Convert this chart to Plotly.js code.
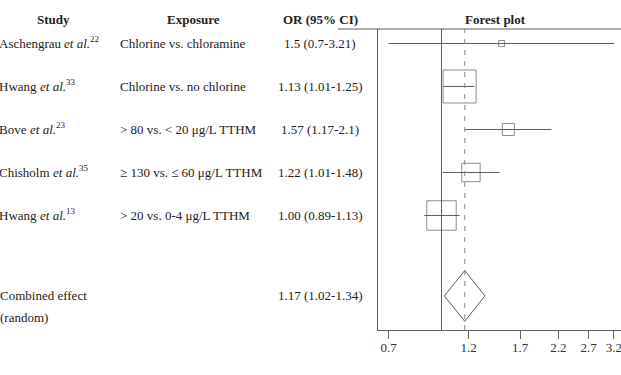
<!DOCTYPE html>
<html>
<head>
<meta charset="utf-8">
<script src="https://cdn.plot.ly/plotly-3.0.1.min.js"></script>
<style>
  html, body { margin: 0; padding: 0; background: #fff; }
  #chart { width: 621px; height: 375px; }
</style>
</head>
<body>
<div id="chart"></div>
<script>
// Study-level odds ratios with 95% confidence intervals
const authors = ['Aschengrau', 'Hwang', 'Bove', 'Chisholm', 'Hwang'];
const refNums = ['22', '33', '23', '35', '13'];
const exposures = [
  'Chlorine vs. chloramine',
  'Chlorine vs. no chlorine',
  '&gt; 80 vs. &lt; 20 μg/L TTHM',
  '≥ 130 vs. ≤ 60 μg/L TTHM',
  '&gt; 20 vs. 0-4 μg/L TTHM'
];
const orText = ['1.5', '1.13', '1.57', '1.22', '1.00'];
const loText = ['0.7', '1.01', '1.17', '1.01', '0.89'];
const hiText = ['3.21', '1.25', '2.1', '1.48', '1.13'];

// Pooled estimate (random effects)
const pooledLabel = ['Combined effect', '(random)'];
const pooledOr = '1.17';
const pooledLo = '1.02';
const pooledHi = '1.34';

// Axis ticks
const tickValues = [0.7, 1.2, 1.7, 2.2, 2.7, 3.2];
const tickLabels = ['0.7', '1.2', '1.7', '2.2', '2.7', '3.2'];

// ---- layout geometry ----
const W = 621, H = 375;
const M = { l: 378, r: 0, t: 29, b: 45 };
const plotW = W - M.l - M.r;
const plotH = H - M.t - M.b;
const pxToPaperX = px => (px - M.l) / plotW;
const pxToPaperY = py => 1 - (py - M.t) / plotH;

const LINE = '#5e5e5e';
const TEXT = '#222';
const FAMILY = 'Liberation Serif';
const FONT = 'Liberation Serif, Times New Roman, serif';
const SIZE = 13;

// text width helper for composing author / "et al." / reference number
const ctx = document.createElement('canvas').getContext('2d');
const textWidth = (s, style) => {
  ctx.font = (style || '') + ' ' + SIZE + 'px "' + FAMILY + '"';
  return ctx.measureText(s).width;
};

const orV = orText.map(Number);
const loV = loText.map(Number);
const hiV = hiText.map(Number);
const n = authors.length;
const rows = authors.map((_, i) => i + 1);
const pooledRow = n + 1.87;

// Box size reflects inverse-variance weight
const se = loV.map((lo, i) => (Math.log(hiV[i]) - Math.log(lo)) / (2 * 1.96));
const w = se.map(s => 1 / (s * s));
const wMax = Math.max(...w);
const boxSize = w.map(v => Math.max(6, 33 * Math.sqrt(v / wMax)));

// Confidence interval segments
const ciX = [], ciY = [];
rows.forEach((r, i) => { ciX.push(loV[i], hiV[i], null); ciY.push(r, r, null); });

const pOr = Number(pooledOr), pLo = Number(pooledLo), pHi = Number(pooledHi);
const dh = 0.59;

const traces = [
  {
    x: ciX, y: ciY, type: 'scatter', mode: 'lines',
    line: { color: LINE, width: 1 }, hoverinfo: 'skip'
  },
  {
    x: orV, y: rows, type: 'scatter', mode: 'markers',
    marker: { symbol: 'square-open', size: boxSize, color: LINE, line: { color: LINE, width: 1 } },
    hoverinfo: 'skip'
  },
  {
    x: [pLo, pOr, pHi, pOr, pLo],
    y: [pooledRow, pooledRow - dh, pooledRow, pooledRow + dh, pooledRow],
    type: 'scatter', mode: 'lines',
    line: { color: LINE, width: 1 }, hoverinfo: 'skip'
  }
];

const annotations = [];
const addText = (text, px, y, yref, anchor, opts = {}) => {
  annotations.push(Object.assign({
    text: text, x: pxToPaperX(px), xref: 'paper', y: y, yref: yref,
    xanchor: anchor, yanchor: 'middle', showarrow: false,
    font: { family: FONT, size: SIZE, color: TEXT }
  }, opts));
};

// Column headers
const headY = pxToPaperY(20);
const bold = { font: { family: FONT, size: SIZE, color: TEXT, weight: 'bold' } };
addText('Study', 53, headY, 'paper', 'center', bold);
addText('Exposure', 193, headY, 'paper', 'center', bold);
addText('OR (95% CI)', 320, headY, 'paper', 'center', bold);
addText('Forest plot', 495, headY, 'paper', 'center', bold);

// Table rows
const studyX = -3;
rows.forEach((r, i) => {
  const nameW = textWidth(authors[i] + ' ');
  const etalW = textWidth('et al.', 'italic');
  addText(authors[i], studyX, r, 'y', 'left');
  addText('et al.', studyX + nameW, r, 'y', 'left',
    { font: { family: FONT, size: SIZE, color: TEXT, style: 'italic' } });
  addText(refNums[i], studyX + nameW + etalW, r, 'y', 'left',
    { font: { family: FONT, size: 9, color: TEXT }, yshift: 4 });
  addText(exposures[i], 118, r, 'y', 'left');
  addText(orText[i] + ' (' + loText[i] + '-' + hiText[i] + ')', 320, r, 'y', 'center');
});
addText(pooledLabel[0], -2, pooledRow, 'y', 'left');
addText(pooledLabel[1], -2, pooledRow + 0.5, 'y', 'left');
addText(pooledOr + ' (' + pooledLo + '-' + pooledHi + ')', 320, pooledRow, 'y', 'center');

const layout = {
  width: W, height: H,
  margin: M,
  paper_bgcolor: '#fff', plot_bgcolor: '#fff',
  showlegend: false,
  hovermode: false,
  font: { family: FONT, size: SIZE, color: TEXT },
  xaxis: {
    type: 'log',
    range: [Math.log10(0.6516), Math.log10(3.357)],
    tickvals: tickValues, ticktext: tickLabels,
    ticks: 'outside', ticklen: 8, tickcolor: LINE, tickwidth: 1,
    ticklabeloverflow: 'allow', ticklabelstandoff: -3,
    showline: true, linecolor: LINE, linewidth: 1,
    showgrid: false, zeroline: false,
    tickfont: { family: FONT, size: SIZE, color: '#333' }
  },
  yaxis: {
    range: [n + 2.663, 0.663],
    showline: true, linecolor: LINE, linewidth: 1,
    showticklabels: false, ticks: '',
    showgrid: false, zeroline: false
  },
  shapes: [
    { type: 'line', xref: 'paper', yref: 'paper', x0: pxToPaperX(338), x1: 1, y0: 1, y1: 1,
      line: { color: LINE, width: 1 } },
    { type: 'line', xref: 'x', yref: 'paper', x0: 1, x1: 1, y0: 0, y1: 1,
      line: { color: LINE, width: 1 } },
    { type: 'line', xref: 'x', yref: 'paper', x0: pOr, x1: pOr, y0: 0, y1: 1,
      line: { color: '#8a8a8a', width: 1, dash: '5px,6px' } }
  ],
  annotations: annotations
};

Plotly.newPlot('chart', traces, layout, { displayModeBar: false, staticPlot: true });
</script>
</body>
</html>
